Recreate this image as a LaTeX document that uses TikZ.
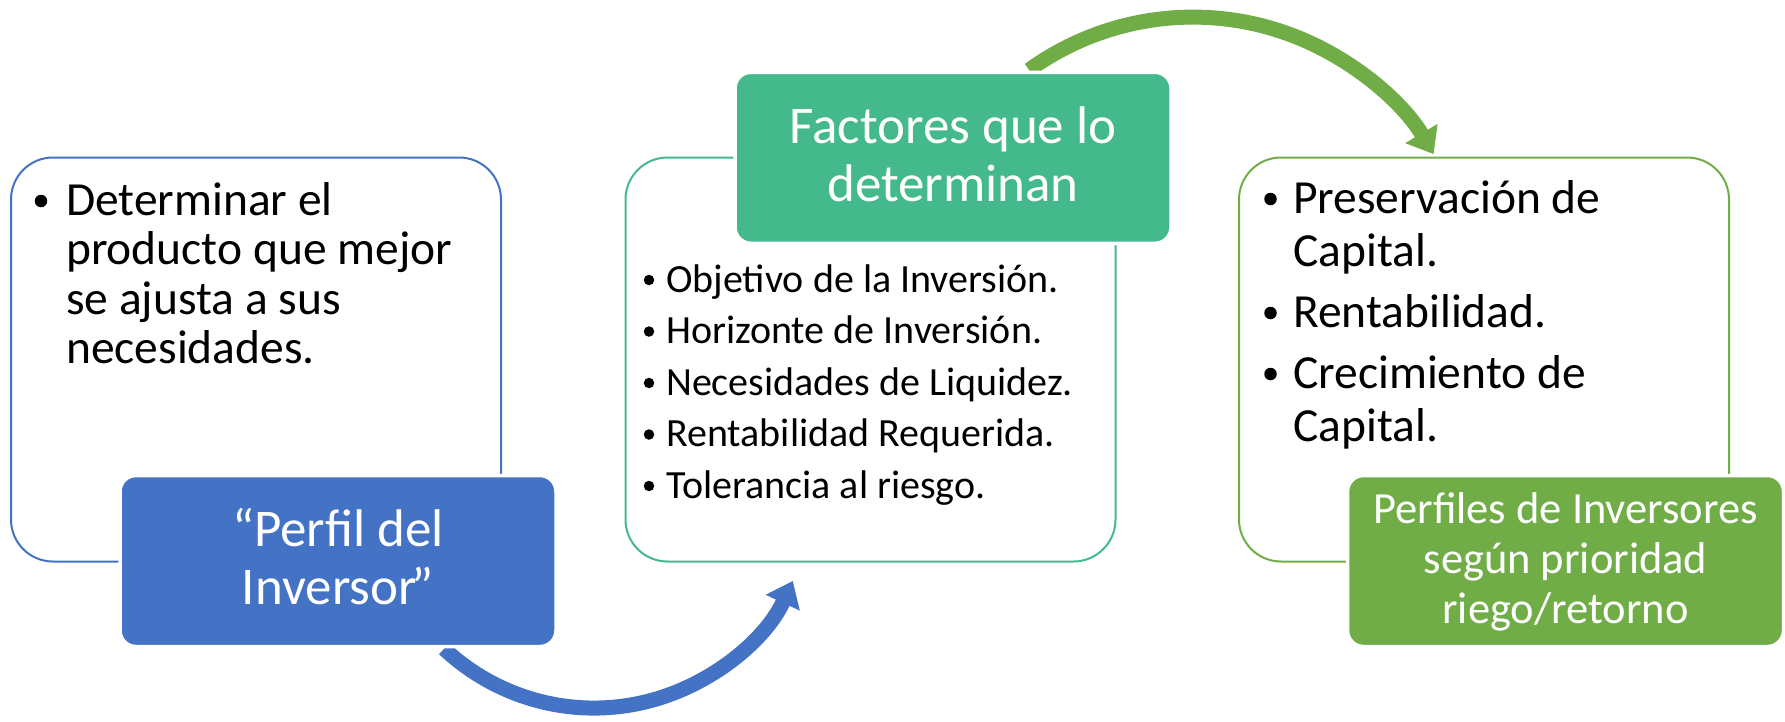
\documentclass[tikz,border=0pt]{standalone}
\usepackage{fontspec}
\setmainfont{Carlito}
\usetikzlibrary{arrows.meta}
\definecolor{cblue}{HTML}{4472C4}
\definecolor{cteal}{HTML}{44B98C}
\definecolor{cgreen}{HTML}{70AD47}
\tikzset{
  panel/.style={draw=#1, line width=2pt, fill=white, rounded corners=42pt,
    minimum width=490pt, minimum height=404pt, inner sep=0pt},
  hdr/.style={fill=#1, draw=white, line width=3.5pt, rounded corners=16pt,
    minimum width=436pt, minimum height=171pt, inner sep=0pt},
  txtA/.style={anchor=base west, inner sep=0pt, font=\fontsize{47.5}{52}\selectfont},
  txtB/.style={anchor=base west, inner sep=0pt, font=\fontsize{40}{50}\selectfont},
  htxt/.style={anchor=base, inner sep=0pt, text=white, font=\fontsize{53}{58}\selectfont},
  htxtB/.style={anchor=base, inner sep=0pt, text=white, font=\fontsize{44.5}{50}\selectfont},
  bulA/.style={circle, fill=black, inner sep=0pt, minimum size=12.5pt},
  bulB/.style={circle, fill=black, inner sep=0pt, minimum size=10.5pt},
  flow/.style={draw=#1, line width=15pt, -{Triangle[length=24pt,width=36pt]}}
}
\begin{document}
\begin{tikzpicture}[x=1pt,y=1pt]
\useasboundingbox (0,0) rectangle (1785,-721);
% curved arrows (under the boxes)
\coordinate (ba) at (444.1,-648.7);
\draw[flow=cblue] (ba) arc[start angle=226.8, end angle=335.2, radius=219pt];
\coordinate (ga) at (1029.1,-70);
\draw[flow=cgreen] (ga) arc[start angle=125.8, end angle=30.7, radius=280pt];
% panels
\node[panel=cblue] (p1) at (256,-359.5) {};
\node[panel=cteal] (p2) at (870.5,-359.5) {};
\node[panel=cgreen] (p3) at (1484,-359.5) {};
% headers
\node[hdr=cblue] (h1) at (338,-561) {};
\node[hdr=cteal] (h2) at (953,-157.8) {};
\node[hdr=cgreen] (h3) at (1565.5,-561) {};
% header texts
\node[htxt] (h1a) at (338,-546) {“Perfil del};
\node[htxt] (h1b) at (338,-604) {Inversor\kern-5pt”};
\node[htxt] (h2a) at (953,-143.3) {Factores que lo};
\node[htxt] (h2b) at (953,-201.7) {determinan};
\node[htxtB] (h3a) at (1565.5,-523) {Perfiles de Inversores};
\node[htxtB] (h3b) at (1565.5,-573) {según prioridad};
\node[htxtB] (h3c) at (1565.5,-623) {riego/retorno};
% box 1 text
\node[bulA] (q1) at (41,-201) {};
\node[txtA] (t11) at (66,-215) {Determinar el};
\node[txtA] (t12) at (66,-264.5) {producto que mejor};
\node[txtA] (t13) at (66,-314) {se ajusta a sus};
\node[txtA] (t14) at (66,-363.5) {necesidades.};
% box 2 text
\node[bulB] (r1) at (649,-280) {};
\node[bulB] (r2) at (649,-331.5) {};
\node[bulB] (r3) at (649,-383) {};
\node[bulB] (r4) at (649,-434.5) {};
\node[bulB] (r5) at (649,-486) {};
\node[txtB] (t21) at (666,-292) {Objetivo de la Inversión.};
\node[txtB] (t22) at (666,-343.5) {Horizonte de Inversión.};
\node[txtB] (t23) at (666,-395) {Necesidades de Liquidez.};
\node[txtB] (t24) at (666,-446.5) {Rentabilidad Requerida.};
\node[txtB] (t25) at (666,-498) {Tolerancia al riesgo.};
% box 3 text
\node[bulA] (s1) at (1270.5,-199) {};
\node[bulA] (s2) at (1270.5,-313) {};
\node[bulA] (s3) at (1270.5,-374) {};
\node[txtA] (t31) at (1293,-213) {Preservación de};
\node[txtA] (t32) at (1293,-266) {Capital.};
\node[txtA] (t33) at (1293,-327) {Rentabilidad.};
\node[txtA] (t34) at (1293,-388) {Crecimiento de};
\node[txtA] (t35) at (1293,-441) {Capital.};
\end{tikzpicture}
\end{document}
